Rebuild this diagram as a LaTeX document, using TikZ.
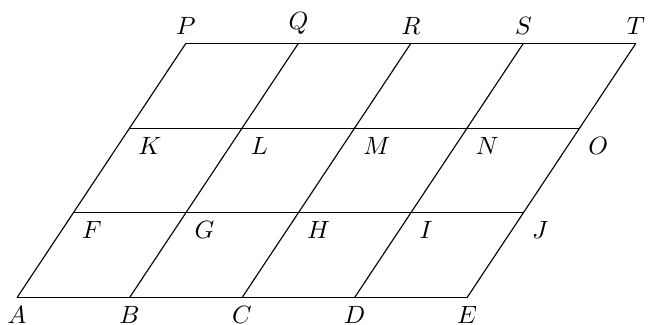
\documentclass[tikz,border=0pt]{standalone}
\begin{document}
\begin{tikzpicture}[x=0.4pt,y=-0.4pt,
  gridline/.style={line width=0.45pt, black}]
\useasboundingbox (0,0) rectangle (648,325);
% row 0
\coordinate[label=below:$A$] (A) at (17,297.7);
\coordinate[label=below:$B$] (B) at (129.5,297.7);
\coordinate[label=below:$C$] (C) at (242,297.7);
\coordinate[label=below:$D$] (D) at (354.5,297.7);
\coordinate[label=below:$E$] (E) at (467,297.7);
% row 1
\coordinate[label=below right:$F$] (F) at (73.3,212.9);
\coordinate[label=below right:$G$] (G) at (185.8,212.9);
\coordinate[label=below right:$H$] (H) at (298.3,212.9);
\coordinate[label=below right:$I$] (I) at (410.8,212.9);
\coordinate[label=below right:$J$] (J) at (523.3,212.9);
% row 2
\coordinate[label=below right:$K$] (K) at (129.6,128.1);
\coordinate[label=below right:$L$] (L) at (242.1,128.1);
\coordinate[label=below right:$M$] (M) at (354.6,128.1);
\coordinate[label=below right:$N$] (N) at (467.1,128.1);
\coordinate[label=below right:$O$] (O) at (579.6,128.1);
% row 3
\coordinate[label=above:$P$] (P) at (185.9,43.3);
\coordinate[label=above:$Q$] (Q) at (298.4,43.3);
\coordinate[label=above:$R$] (R) at (410.9,43.3);
\coordinate[label=above:$S$] (S) at (523.4,43.3);
\coordinate[label=above:$T$] (T) at (635.9,43.3);
% horizontals
\draw[gridline] (A) -- (E);
\draw[gridline] (F) -- (J);
\draw[gridline] (K) -- (O);
\draw[gridline] (P) -- (T);
% slanted
\draw[gridline] (A) -- (P);
\draw[gridline] (B) -- (Q);
\draw[gridline] (C) -- (R);
\draw[gridline] (D) -- (S);
\draw[gridline] (E) -- (T);
\end{tikzpicture}
\end{document}
